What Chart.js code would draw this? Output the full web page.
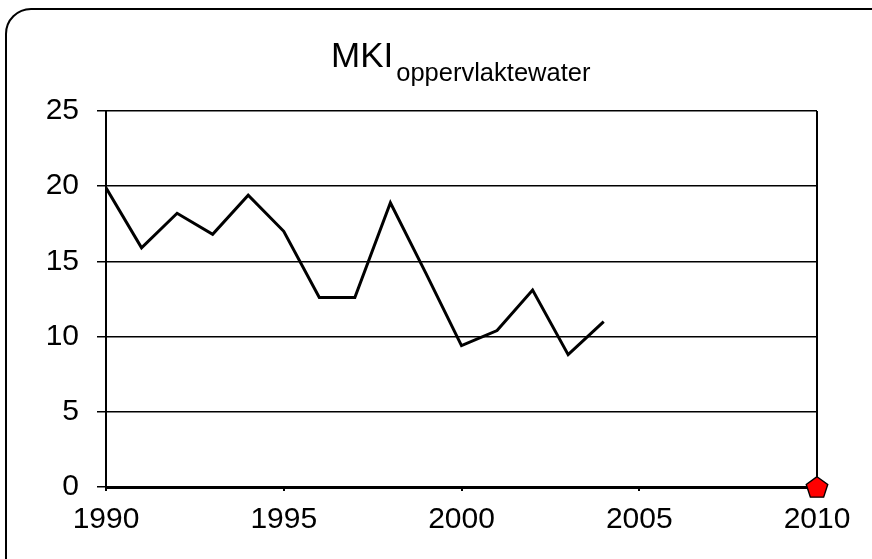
<!DOCTYPE html>
<html>
<head>
<meta charset="utf-8">
<script src="https://cdn.jsdelivr.net/npm/chart.js@4.4.1/dist/chart.umd.min.js"></script>
<style>
  html, body { margin: 0; padding: 0; background: #fff; overflow: hidden; }
  #wrap { position: relative; width: 872px; height: 559px; }
  #frame { position: absolute; left: 5px; top: 8px; width: 900px; height: 600px; border: 2px solid #000; border-radius: 26px; box-sizing: border-box; }
  canvas { position: absolute; left: 0; top: 0; }
</style>
</head>
<body>
<div id="wrap">
  <div id="frame"></div>
  <canvas id="c" width="872" height="559"></canvas>
</div>
<script>
// MKI oppervlaktewater: measured series + 2010 target
const years = [1990, 1991, 1992, 1993, 1994, 1995, 1996, 1997, 1998, 1999, 2000, 2001, 2002, 2003, 2004];
const mki = [19.9, 15.9, 18.2, 16.8, 19.4, 17.0, 12.6, 12.6, 18.9, 14.2, 9.4, 10.4, 13.1, 8.8, 11.0];
const targetYears = [2010];
const targetValues = [0];
const xTicks = [1990, 1995, 2000, 2005, 2010];
const yTicks = [0, 5, 10, 15, 20, 25];

const FONT = "Arial, 'Liberation Sans', sans-serif";

// red pentagon marker
function pentagon(size) {
  const cv = document.createElement("canvas");
  cv.width = size; cv.height = size;
  const g = cv.getContext("2d"), c = size / 2, r = 11.3;
  g.beginPath();
  for (let i = 0; i < 5; i++) {
    const a = -Math.PI / 2 + i * 2 * Math.PI / 5;
    const px = c + r * Math.cos(a), py = c + r * Math.sin(a) + 1;
    i ? g.lineTo(px, py) : g.moveTo(px, py);
  }
  g.closePath();
  g.fillStyle = "#ff0000"; g.fill();
  g.lineWidth = 1.4; g.strokeStyle = "#000"; g.stroke();
  return cv;
}

const titlePlugin = {
  id: "subTitle",
  afterDraw(chart) {
    const ctx = chart.ctx;
    ctx.save();
    ctx.fillStyle = "#000";
    ctx.textBaseline = "alphabetic";
    ctx.font = "35px " + FONT;
    ctx.fillText("MKI", 331, 67);
    const w = ctx.measureText("MKI").width;
    ctx.font = "25.5px " + FONT;
    ctx.fillText("oppervlaktewater", 331 + w + 3, 81);
    ctx.restore();
  }
};

new Chart(document.getElementById("c"), {
  type: "line",
  data: {
    datasets: [
      { data: years.map((y, i) => ({ x: y, y: mki[i] })), borderColor: "#000", borderWidth: 3, pointRadius: 0, tension: 0, fill: false },
      { data: targetYears.map((y, i) => ({ x: y, y: targetValues[i] })), showLine: false, pointStyle: pentagon(28), pointRadius: 14, clip: false }
    ]
  },
  options: {
    responsive: false, animation: false,
    layout: { padding: { left: 0, top: 111, right: 55, bottom: 0 } },
    plugins: { legend: { display: false }, tooltip: { enabled: false } },
    scales: {
      x: {
        type: "linear", min: 1990, max: 2010,
        afterBuildTicks: (s) => { s.ticks = xTicks.map((v) => ({ value: v })); },
        afterFit: (s) => { s.height = 72; },
        ticks: { color: "#000", font: { family: FONT, size: 30 }, padding: 11, maxRotation: 0, callback: (v) => String(v) },
        grid: { color: (c) => (c.tick && c.tick.value === 2010 ? "#000" : "rgba(0,0,0,0)"), lineWidth: 2, tickColor: "#000", tickLength: 4, drawTicks: true },
        border: { color: "#000", width: 3 }
      },
      y: {
        min: 0, max: 25,
        afterBuildTicks: (s) => { s.ticks = yTicks.map((v) => ({ value: v })); },
        afterFit: (s) => { s.width = 106; },
        ticks: { color: "#000", font: { family: FONT, size: 30 }, padding: 18, callback: (v) => String(v) },
        grid: { color: "#000", lineWidth: 1.5, tickLength: 9 },
        border: { color: "#000", width: 2 }
      }
    }
  },
  plugins: [titlePlugin]
});
</script>
</body>
</html>
